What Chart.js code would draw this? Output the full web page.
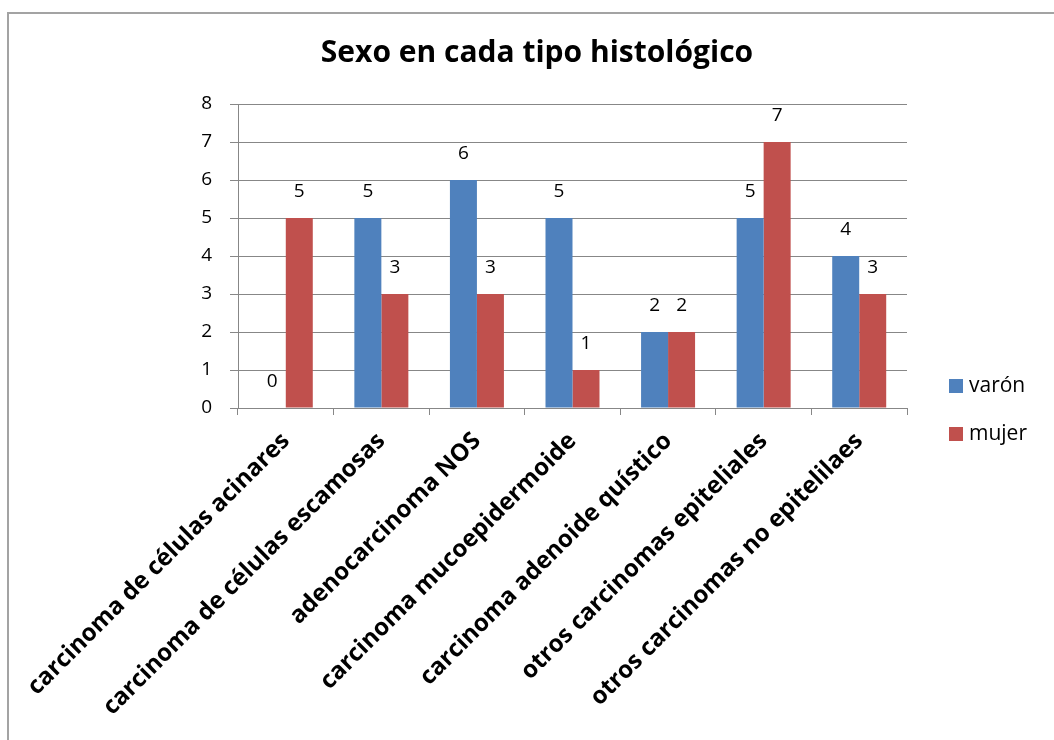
<!DOCTYPE html>
<html lang="es">
<head>
<meta charset="utf-8">
<title>Sexo en cada tipo histológico</title>
<script src="https://cdn.jsdelivr.net/npm/chart.js@4.4.1/dist/chart.umd.min.js"></script>
<style>
  html, body { margin: 0; padding: 0; background: #fff; }
  #graficoSexo { display: block; }
</style>
</head>
<body>
<canvas id="graficoSexo" width="1054" height="740"></canvas>
<script>
// Sexo en cada tipo histológico

const titulo = "Sexo en cada tipo histológico";
const tiposHistologicos = [
    "carcinoma de células acinares",
    "carcinoma de células escamosas",
    "adenocarcinoma NOS",
    "carcinoma mucoepidermoide",
    "carcinoma adenoide quístico",
    "otros carcinomas epiteliales",
    "otros carcinomas no epitelilaes",
];
const varon = [0, 5, 6, 5, 2, 5, 4];
const mujer = [5, 3, 3, 1, 2, 7, 3];

const ejeYMin = 0;
const ejeYMax = 8;
const ejeYPaso = 1;

const azul = "#4f81bd";
const rojo = "#c0504d";
const gris = "#878787";
const fuente = "'Open Sans', Lato, sans-serif";

// marco gris del documento y título centrado en todo el ancho
const marco = {
    id: "marco",
    beforeDraw(chart) {
        const ctx = chart.ctx;
        ctx.save();
        ctx.fillStyle = "#fff";
        ctx.fillRect(0, 0, chart.width, chart.height);
        ctx.strokeStyle = "#a3a3a3";
        ctx.lineWidth = 2;
        ctx.beginPath();
        ctx.moveTo(8, chart.height + 5);
        ctx.lineTo(8, 13);
        ctx.lineTo(chart.width + 5, 13);
        ctx.stroke();

        ctx.fillStyle = "#000";
        ctx.font = "bold 30px " + fuente;
        ctx.textAlign = "center";
        ctx.textBaseline = "middle";
        ctx.fillText(titulo, 537, 53);
        ctx.restore();
    },
};

// valores encima de cada barra
const etiquetasValor = {
    id: "etiquetasValor",
    afterDatasetsDraw(chart) {
        const ctx = chart.ctx;
        ctx.save();
        ctx.font = "19px " + fuente;
        ctx.fillStyle = "#000";
        ctx.textAlign = "center";
        ctx.textBaseline = "middle";
        chart.data.datasets.forEach((ds, i) => {
            chart.getDatasetMeta(i).data.forEach((barra, j) => {
                ctx.fillText(String(ds.data[j]), barra.x, barra.y - 26);
            });
        });
        ctx.restore();
    },
};

// leyenda a la derecha
const leyenda = {
    id: "leyenda",
    afterDraw(chart) {
        const ctx = chart.ctx;
        const x = chart.chartArea.right + 42;
        let y = 386;
        ctx.save();
        ctx.font = "21px " + fuente;
        ctx.textAlign = "left";
        ctx.textBaseline = "middle";
        chart.data.datasets.forEach((ds) => {
            ctx.fillStyle = ds.backgroundColor;
            ctx.fillRect(x, y - 7, 14, 14);
            ctx.fillStyle = "#000";
            ctx.fillText(ds.label, x + 20, y);
            y += 48;
        });
        ctx.restore();
    },
};

const dataSexo = {
    labels: tiposHistologicos,
    datasets: [
        {
            label: "varón",
            backgroundColor: azul,
            data: varon,
        },
        {
            label: "mujer",
            backgroundColor: rojo,
            data: mujer,
        },
    ],
};

const configSexo = {
    type: "bar",
    data: dataSexo,
    options: {
        responsive: false,
        animation: false,
        datasets: {
            bar: {
                categoryPercentage: 0.565,
                barPercentage: 1.0,
            },
        },
        layout: {
            autoPadding: false,
            padding: { top: 104, right: 147, bottom: 0, left: 0 },
        },
        plugins: {
            legend: { display: false },
            tooltip: { enabled: false },
        },
        scales: {
            x: {
                grid: {
                    offset: true,
                    drawOnChartArea: false,
                    tickLength: 7,
                    color: gris,
                },
                border: { color: gris },
                ticks: {
                    autoSkip: false,
                    minRotation: 45,
                    maxRotation: 45,
                    padding: 12,
                    color: "#000",
                    font: { family: fuente, size: 24, weight: "bold" },
                },
                afterFit(scale) {
                    scale.height = 332;
                },
            },
            y: {
                min: ejeYMin,
                max: ejeYMax,
                grid: { color: gris, tickLength: 8 },
                border: { color: gris },
                ticks: {
                    stepSize: ejeYPaso,
                    padding: 18,
                    color: "#000",
                    font: { family: fuente, size: 19 },
                },
                afterFit(scale) {
                    scale.width = 238;
                },
            },
        },
    },
    plugins: [marco, etiquetasValor, leyenda],
};

var graficoSexo = new Chart(document.getElementById("graficoSexo"), configSexo);
</script>
</body>
</html>
